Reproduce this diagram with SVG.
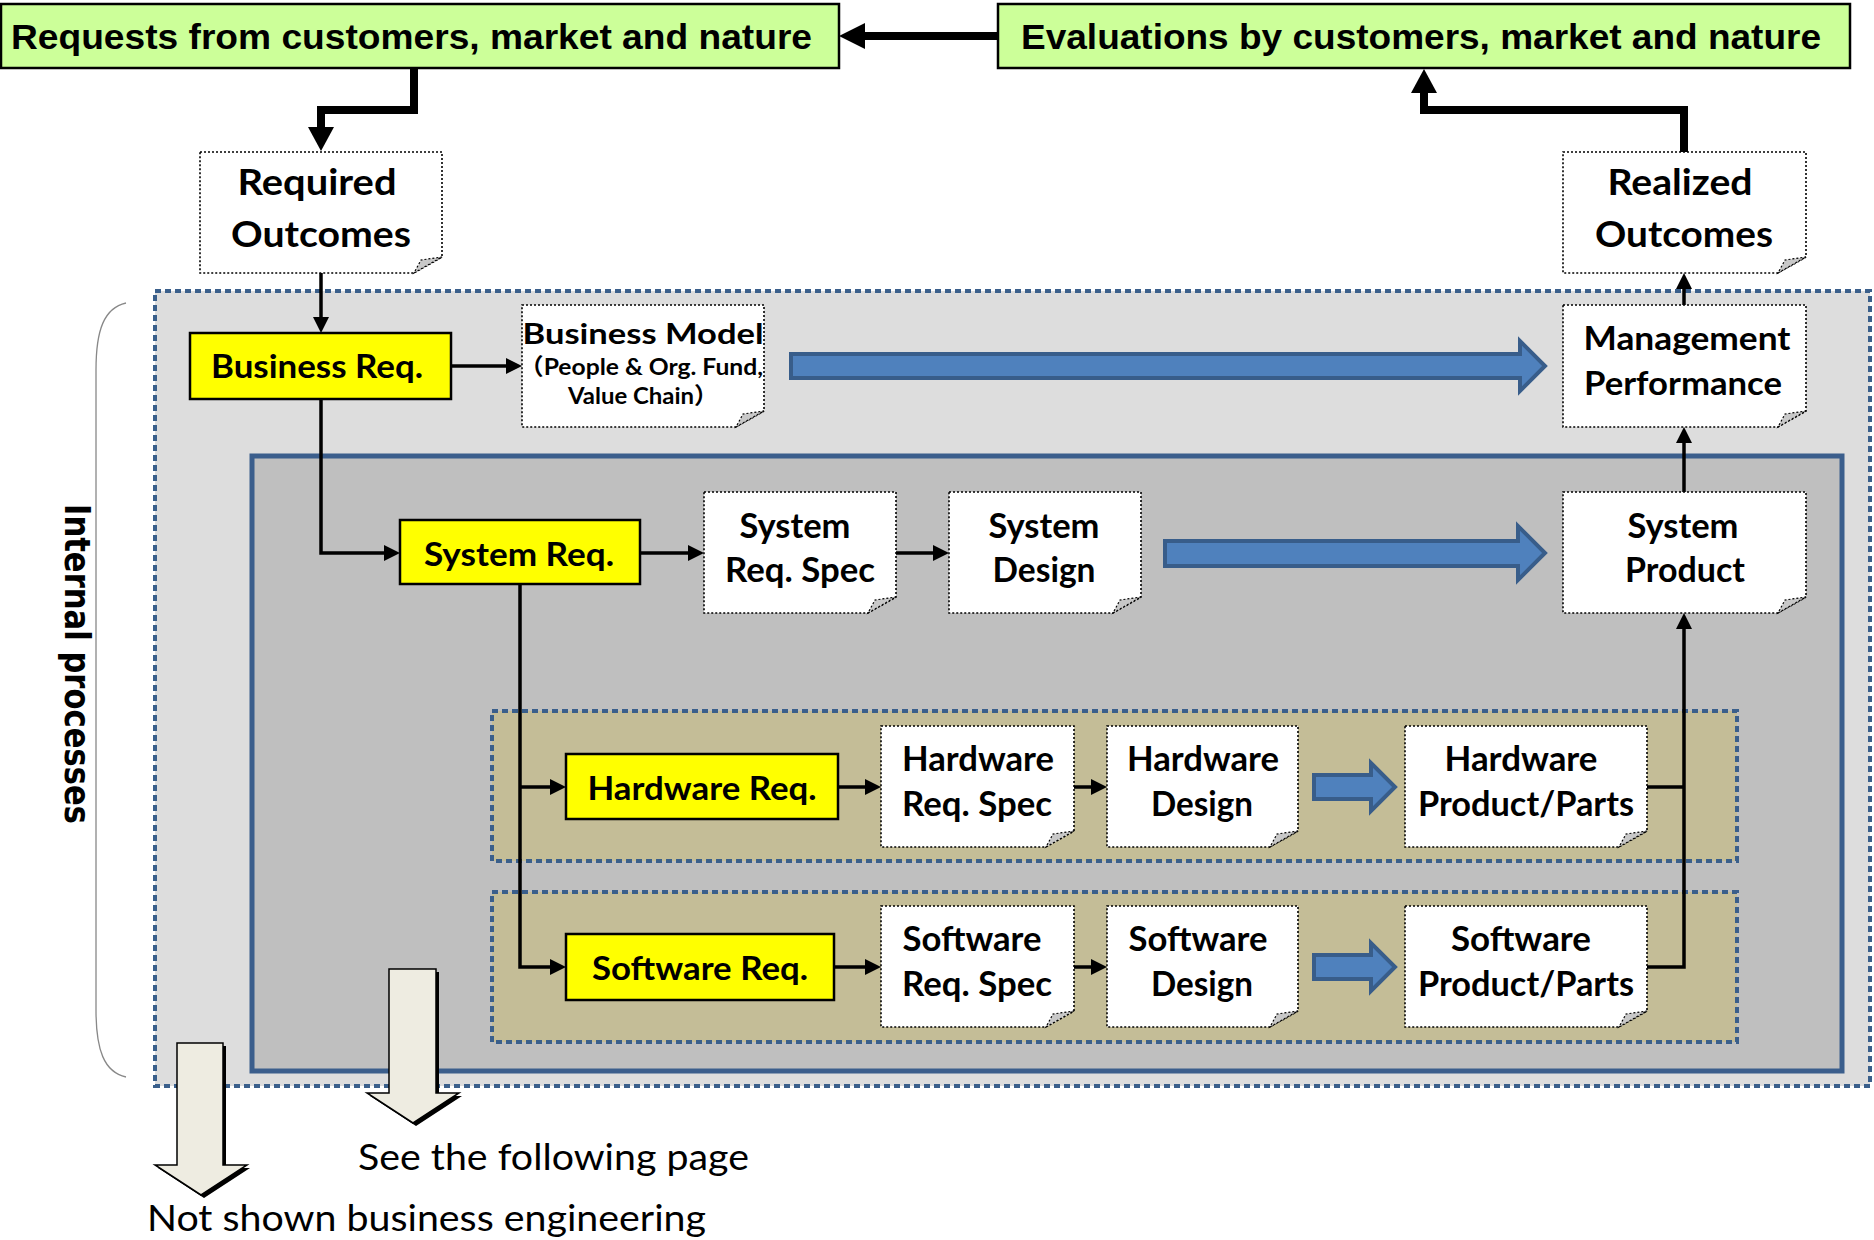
<svg xmlns="http://www.w3.org/2000/svg" width="1874" height="1240" viewBox="0 0 1874 1240">
<defs>
<style>
.green{fill:#CCFF99;stroke:#000;stroke-width:2.5}
.yellow{fill:#FFFF00;stroke:#000;stroke-width:2.5}
.note{fill:#FFFFFF;stroke:#000;stroke-width:1.6;stroke-dasharray:2 2}
.flap{fill:#C8C8C8;stroke:#000;stroke-width:1.2;stroke-dasharray:2 2}
.t{font-family:Lato,"Liberation Sans","Noto Sans CJK JP",sans-serif;font-weight:bold;fill:#000;text-anchor:middle}
.ta{font-family:"Liberation Sans",Arial,sans-serif;font-weight:bold;fill:#000;font-size:35px}
.tn{font-family:Lato,"Liberation Sans",sans-serif;fill:#000;font-size:37px}
.blk{fill:#4F81BD;stroke:#385D8A;stroke-width:4;stroke-linejoin:miter}
.conn{fill:none;stroke:#000;stroke-width:3.5}
.thick{fill:none;stroke:#000;stroke-width:8}
.band{fill:#C4BD97;stroke:#3A5F8B;stroke-width:4;stroke-dasharray:6 4}
.down{fill:#EEECE1;stroke:#000;stroke-width:1.5}
</style>
<marker id="ah" markerUnits="userSpaceOnUse" markerWidth="16" markerHeight="16" refX="10" refY="8" orient="auto">
<path d="M0,0 L16,8 L0,16 Z" fill="#000"/>
</marker>
</defs>

<g id="background">
<rect x="155" y="291" width="1715" height="795" fill="#DDDDDD" stroke="#3A5F8B" stroke-width="4" stroke-dasharray="6 4"/>
<path d="M126,303 C104,308 96,330 96,370 V1010 C96,1050 104,1072 126,1077" fill="none" stroke="#888" stroke-width="1.3"/>
<rect x="252" y="456" width="1590" height="615" fill="#BFBFBF" stroke="#3B5E8C" stroke-width="5"/>
<rect class="band" x="492" y="711" width="1245" height="150"/>
<rect class="band" x="492" y="892" width="1245" height="150"/>
</g>

<g id="connectors">
<path class="thick" d="M998,36 H860"/>
<polygon points="839,36 865,23 865,49" fill="#000"/>
<path class="thick" d="M414,68 V110 H321 V130"/>
<polygon points="321,151 308,127 334,127" fill="#000"/>
<path class="thick" d="M1684,152 V110 H1424 V92"/>
<polygon points="1424,69 1411,93 1437,93" fill="#000"/>

<path class="conn" d="M321,273 V327" marker-end="url(#ah)"/>
<path class="conn" d="M451,366 H516" marker-end="url(#ah)"/>
<path class="conn" d="M321,399 V553 H394" marker-end="url(#ah)"/>
<path class="conn" d="M640,553 H698" marker-end="url(#ah)"/>
<path class="conn" d="M896,553 H943" marker-end="url(#ah)"/>
<path class="conn" d="M1684,492 V433" marker-end="url(#ah)"/>
<path class="conn" d="M1684,305 V279" marker-end="url(#ah)"/>
<path class="conn" d="M520,584 V967 H560" marker-end="url(#ah)"/>
<path class="conn" d="M520,787 H560" marker-end="url(#ah)"/>
<path class="conn" d="M838,787 H875" marker-end="url(#ah)"/>
<path class="conn" d="M834,967 H875" marker-end="url(#ah)"/>
<path class="conn" d="M1074,787 H1101" marker-end="url(#ah)"/>
<path class="conn" d="M1074,967 H1101" marker-end="url(#ah)"/>
<path class="conn" d="M1647,787 H1684"/>
<path class="conn" d="M1647,967 H1684 V619" marker-end="url(#ah)"/>

<polygon class="blk" points="791,354 1520,354 1520,341 1545,366 1520,391 1520,378 791,378"/>
<polygon class="blk" points="1165,541 1518,541 1518,526 1545,553 1518,580 1518,566 1165,566"/>
<polygon class="blk" points="1314,775 1371,775 1371,763 1395,787 1371,811 1371,799 1314,799"/>
<polygon class="blk" points="1314,955 1371,955 1371,943 1395,967 1371,991 1371,979 1314,979"/>
</g>

<g id="requests">
<rect class="green" x="1" y="4" width="838" height="64"/>
<text class="ta" x="11" y="49" textLength="801" lengthAdjust="spacingAndGlyphs">Requests from customers, market and nature</text>
</g>
<g id="evaluations">
<rect class="green" x="998" y="4" width="852" height="64"/>
<text class="ta" x="1021" y="49" textLength="800" lengthAdjust="spacingAndGlyphs">Evaluations by customers, market and nature</text>
</g>

<g id="required-outcomes">
<path class="note" d="M200,152 H442 V257 L414,273 H200 Z"/>
<path class="flap" d="M414,273 L442,257 L421,260 Z"/>
<text class="t" font-size="37" x="317" y="195" textLength="159" lengthAdjust="spacingAndGlyphs">Required</text>
<text class="t" font-size="37" x="321" y="247" textLength="180" lengthAdjust="spacingAndGlyphs">Outcomes</text>
</g>
<g id="realized-outcomes">
<path class="note" d="M1563,152 H1806 V257 L1778,273 H1563 Z"/>
<path class="flap" d="M1778,273 L1806,257 L1785,260 Z"/>
<text class="t" font-size="37" x="1680" y="195" textLength="145" lengthAdjust="spacingAndGlyphs">Realized</text>
<text class="t" font-size="37" x="1684" y="247" textLength="178" lengthAdjust="spacingAndGlyphs">Outcomes</text>
</g>

<g id="business-req">
<rect class="yellow" x="190" y="333" width="261" height="66"/>
<text class="t" font-size="32" x="317" y="378" textLength="212" lengthAdjust="spacingAndGlyphs">Business Req.</text>
</g>
<g id="business-model">
<path class="note" d="M522,305 H764 V411 L736,427 H522 Z"/>
<path class="flap" d="M736,427 L764,411 L743,414 Z"/>
<text class="t" font-size="29" x="643" y="344" textLength="241" lengthAdjust="spacingAndGlyphs">Business Model</text>
<text class="t" font-size="23" x="641" y="375" textLength="244" lengthAdjust="spacingAndGlyphs">（People &amp; Org. Fund,</text>
<text class="t" font-size="23" x="643" y="404" textLength="150" lengthAdjust="spacingAndGlyphs">Value Chain）</text>
</g>
<g id="management-performance">
<path class="note" d="M1563,305 H1806 V411 L1778,427 H1563 Z"/>
<path class="flap" d="M1778,427 L1806,411 L1785,414 Z"/>
<text class="t" font-size="33" x="1687" y="350" textLength="207" lengthAdjust="spacingAndGlyphs">Management</text>
<text class="t" font-size="33" x="1683" y="395" textLength="198" lengthAdjust="spacingAndGlyphs">Performance</text>
</g>

<g id="system-req">
<rect class="yellow" x="400" y="520" width="240" height="64"/>
<text class="t" font-size="33" x="519" y="566" textLength="190" lengthAdjust="spacingAndGlyphs">System Req.</text>
</g>
<g id="system-req-spec">
<path class="note" d="M704,492 H896 V597 L868,613 H704 Z"/>
<path class="flap" d="M868,613 L896,597 L875,600 Z"/>
<text class="t" font-size="34" x="795" y="538" textLength="111" lengthAdjust="spacingAndGlyphs">System</text>
<text class="t" font-size="34" x="800" y="582" textLength="150" lengthAdjust="spacingAndGlyphs">Req. Spec</text>
</g>
<g id="system-design">
<path class="note" d="M949,492 H1141 V597 L1113,613 H949 Z"/>
<path class="flap" d="M1113,613 L1141,597 L1120,600 Z"/>
<text class="t" font-size="34" x="1044" y="538" textLength="111" lengthAdjust="spacingAndGlyphs">System</text>
<text class="t" font-size="34" x="1044" y="582" textLength="103" lengthAdjust="spacingAndGlyphs">Design</text>
</g>
<g id="system-product">
<path class="note" d="M1563,492 H1806 V597 L1778,613 H1563 Z"/>
<path class="flap" d="M1778,613 L1806,597 L1785,600 Z"/>
<text class="t" font-size="34" x="1683" y="538" textLength="111" lengthAdjust="spacingAndGlyphs">System</text>
<text class="t" font-size="34" x="1685" y="582" textLength="120" lengthAdjust="spacingAndGlyphs">Product</text>
</g>

<g id="hardware-req">
<rect class="yellow" x="566" y="754" width="272" height="65"/>
<text class="t" font-size="33" x="702" y="800" textLength="229" lengthAdjust="spacingAndGlyphs">Hardware Req.</text>
</g>
<g id="hardware-req-spec">
<path class="note" d="M881,726 H1074 V831 L1046,847 H881 Z"/>
<path class="flap" d="M1046,847 L1074,831 L1053,834 Z"/>
<text class="t" font-size="34" x="978" y="771" textLength="152" lengthAdjust="spacingAndGlyphs">Hardware</text>
<text class="t" font-size="34" x="977" y="816" textLength="150" lengthAdjust="spacingAndGlyphs">Req. Spec</text>
</g>
<g id="hardware-design">
<path class="note" d="M1107,726 H1298 V831 L1270,847 H1107 Z"/>
<path class="flap" d="M1270,847 L1298,831 L1277,834 Z"/>
<text class="t" font-size="34" x="1203" y="771" textLength="152" lengthAdjust="spacingAndGlyphs">Hardware</text>
<text class="t" font-size="34" x="1202" y="816" textLength="102" lengthAdjust="spacingAndGlyphs">Design</text>
</g>
<g id="hardware-product">
<path class="note" d="M1405,726 H1647 V831 L1619,847 H1405 Z"/>
<path class="flap" d="M1619,847 L1647,831 L1626,834 Z"/>
<text class="t" font-size="34" x="1521" y="771" textLength="153" lengthAdjust="spacingAndGlyphs">Hardware</text>
<text class="t" font-size="34" x="1526" y="816" textLength="216" lengthAdjust="spacingAndGlyphs">Product/Parts</text>
</g>

<g id="software-req">
<rect class="yellow" x="566" y="934" width="268" height="66"/>
<text class="t" font-size="33" x="700" y="980" textLength="216" lengthAdjust="spacingAndGlyphs">Software Req.</text>
</g>
<g id="software-req-spec">
<path class="note" d="M881,906 H1074 V1011 L1046,1027 H881 Z"/>
<path class="flap" d="M1046,1027 L1074,1011 L1053,1014 Z"/>
<text class="t" font-size="34" x="972" y="951" textLength="139" lengthAdjust="spacingAndGlyphs">Software</text>
<text class="t" font-size="34" x="977" y="996" textLength="150" lengthAdjust="spacingAndGlyphs">Req. Spec</text>
</g>
<g id="software-design">
<path class="note" d="M1107,906 H1298 V1011 L1270,1027 H1107 Z"/>
<path class="flap" d="M1270,1027 L1298,1011 L1277,1014 Z"/>
<text class="t" font-size="34" x="1198" y="951" textLength="139" lengthAdjust="spacingAndGlyphs">Software</text>
<text class="t" font-size="34" x="1202" y="996" textLength="102" lengthAdjust="spacingAndGlyphs">Design</text>
</g>
<g id="software-product">
<path class="note" d="M1405,906 H1647 V1011 L1619,1027 H1405 Z"/>
<path class="flap" d="M1619,1027 L1647,1011 L1626,1014 Z"/>
<text class="t" font-size="34" x="1521" y="951" textLength="140" lengthAdjust="spacingAndGlyphs">Software</text>
<text class="t" font-size="34" x="1526" y="996" textLength="216" lengthAdjust="spacingAndGlyphs">Product/Parts</text>
</g>

<g id="internal-processes">
<text transform="translate(65,504) rotate(90)" font-family="'DejaVu Sans',Verdana,sans-serif" font-weight="bold" font-size="36" textLength="320" lengthAdjust="spacingAndGlyphs">Internal processes</text>
</g>

<g id="not-shown">
<polygon points="180,1046 226,1046 226,1168 250,1168 204,1198 158,1168 180,1168" fill="#000"/>
<polygon class="down" points="177,1043 223,1043 223,1165 247,1165 201,1195 155,1165 177,1165"/>
<text class="tn" x="147" y="1231" textLength="559" lengthAdjust="spacingAndGlyphs">Not shown business engineering</text>
</g>
<g id="see-following">
<polygon points="392,972 439,972 439,1096 462,1096 416,1126 370,1096 392,1096" fill="#000"/>
<polygon class="down" points="389,969 436,969 436,1093 459,1093 413,1123 367,1093 389,1093"/>
<text class="tn" x="358" y="1170" textLength="391" lengthAdjust="spacingAndGlyphs">See the following page</text>
</g>
</svg>
